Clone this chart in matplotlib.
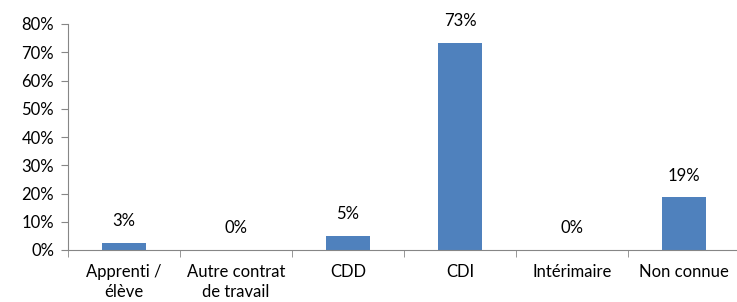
import numpy as np
import matplotlib.pyplot as plt
from matplotlib.ticker import FuncFormatter, MultipleLocator, FixedLocator

plt.rcParams['font.family'] = ['Lato', 'DejaVu Sans']

# -----------------------------------------------------------------------
# Data
# -----------------------------------------------------------------------
categories = ["Apprenti /\nélève", "Autre contrat\nde travail", "CDD",
              "CDI", "Intérimaire", "Non connue"]
shares = [2.6, 0.0, 5.1, 73.3, 0.0, 18.7]
labels = ["3%", "0%", "5%", "73%", "0%", "19%"]

bar_color = "#4F81BD"
axis_color = "#868686"
fs = 12

fig = plt.figure(figsize=(7.37, 3.02), dpi=100)
ax = fig.add_axes([68 / 737, 1 - 250 / 302, 672 / 737, 226 / 302])

x = np.arange(len(categories))
bars = ax.bar(x, shares, width=0.4, color=bar_color)

for xi, val, lab in zip(x, shares, labels):
    ax.annotate(lab, (xi, val), xytext=(0, 15.5), textcoords="offset points",
                ha="center", va="center", fontsize=fs, color="#000000")

ax.set_xlim(-0.5, len(categories) - 0.5)
ax.set_ylim(0, 80)
ax.yaxis.set_major_locator(MultipleLocator(10))
ax.yaxis.set_major_formatter(FuncFormatter(lambda v, _: f"{v:.0f}%"))

ax.set_xticks(x)
ax.set_xticklabels(categories, linespacing=1.35)
ax.xaxis.set_minor_locator(FixedLocator(np.arange(len(categories) + 1) - 0.5))
ax.tick_params(axis="x", which="major", length=0, pad=10, labelsize=fs)
ax.tick_params(axis="x", which="minor", length=5, color=axis_color, direction="out")
ax.tick_params(axis="y", length=5, color=axis_color, direction="out", pad=5, labelsize=fs)

for side in ["top", "right"]:
    ax.spines[side].set_visible(False)
for side in ["left", "bottom"]:
    ax.spines[side].set_color(axis_color)

plt.savefig("out.png", dpi=100)
